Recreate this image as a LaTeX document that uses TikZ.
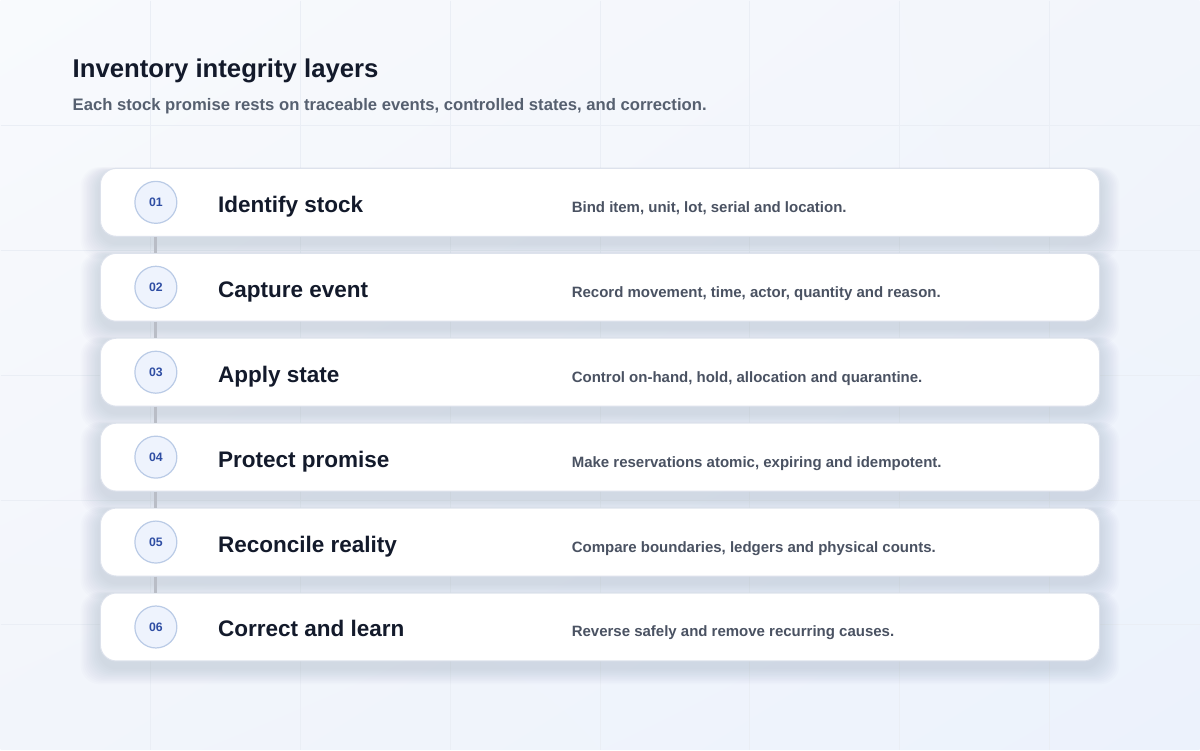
\documentclass[tikz,border=0pt]{standalone}
\usepackage{fontspec}
\setmainfont{Liberation Sans}
\usepackage{tikz}
\usetikzlibrary{shadings}
\pgfdeclarelayer{background}
\pgfsetlayers{background,main}
\definecolor{ink}{HTML}{131A2B}
\definecolor{muted}{HTML}{4A5262}
\definecolor{subgray}{HTML}{566070}
\definecolor{badgeblue}{HTML}{2E4DA3}
\definecolor{badgefill}{HTML}{EEF3FD}
\definecolor{badgeline}{HTML}{BACBE6}
\definecolor{cardline}{HTML}{DDE2EC}
\definecolor{gridline}{HTML}{EAEEF5}
\definecolor{stem}{HTML}{B9BDC6}
\definecolor{bgtop}{HTML}{F8FAFD}
\definecolor{bgmid}{HTML}{F2F5FB}
\definecolor{bgbot}{HTML}{ECF2FC}
\definecolor{dusk}{HTML}{5A6A90}
\tikzstyle{layer} = [rectangle, draw=cardline, fill=white, rounded corners=12pt,
    minimum width=750pt, minimum height=51pt, line width=0.75pt]
\tikzstyle{haze} = [fill=dusk, opacity=0.016, rounded corners=14pt]
\tikzstyle{badge} = [circle, draw=badgeline, fill=badgefill, line width=0.9pt,
    minimum size=31.5pt, inner sep=0pt, text=badgeblue, font=\bfseries\fontsize{9.2}{9}\selectfont]
\tikzstyle{heading} = [anchor=base west, inner sep=0pt, text=ink,
    font=\bfseries\fontsize{16.9}{18}\selectfont]
\tikzstyle{note} = [anchor=base west, inner sep=0pt, text=muted,
    font=\bfseries\fontsize{11.25}{13}\selectfont]
\tikzstyle{link} = [draw=stem, line width=2.25pt]

\begin{document}
\begin{tikzpicture}[x=0.75pt, y=-0.75pt, node distance=63.75pt]
    % Backdrop
    \begin{pgfonlayer}{background}
    \shade [upper left=bgtop, lower right=bgbot, upper right=bgmid, lower left=bgmid]
        (0,0) rectangle (1200,750);
    \foreach \gx in {150,300,...,1050} \draw [gridline, line width=0.75pt] (\gx,0) -- (\gx,750);
    \foreach \gy in {125,250,...,625} \draw [gridline, line width=0.75pt] (0,\gy) -- (1200,\gy);
    \end{pgfonlayer}
    \useasboundingbox (0,0) rectangle (1200,750);
    % Header
    \node [anchor=base west, inner sep=0pt, text=ink, font=\bfseries\fontsize{19.3}{22}\selectfont]
        (title) at (72,77) {Inventory integrity layers};
    \node [anchor=base west, inner sep=0pt, text=subgray, font=\bfseries\fontsize{12.5}{14}\selectfont]
        (subtitle) at (72,110) {Each stock promise rests on traceable events, controlled states, and correction.};
    % Place layers
    \node [layer] (identify) at (600,202) {};
    \node [layer, below of=identify] (capture) {};
    \node [layer, below of=capture] (apply) {};
    \node [layer, below of=apply] (protect) {};
    \node [layer, below of=protect] (reconcile) {};
    \node [layer, below of=reconcile] (correct) {};
    % Soft shadows under the layers
    \begin{pgfonlayer}{background}
    \foreach \c in {identify,capture,apply,protect,reconcile,correct}
        \foreach \k in {1,...,12}
            \path [haze] ([xshift=-\k*1.2pt, yshift=-5pt-\k*1pt]\c.south west)
                rectangle ([xshift=\k*1.2pt, yshift=-3pt+\k*0.3pt]\c.north east);
    \end{pgfonlayer}
    % Badges
    \node [badge] (n1) at ([xshift=42pt]identify.west) {01};
    \node [badge] (n2) at ([xshift=42pt]capture.west) {02};
    \node [badge] (n3) at ([xshift=42pt]apply.west) {03};
    \node [badge] (n4) at ([xshift=42pt]protect.west) {04};
    \node [badge] (n5) at ([xshift=42pt]reconcile.west) {05};
    \node [badge] (n6) at ([xshift=42pt]correct.west) {06};
    % Headings
    \node [heading] at ([xshift=88.5pt, yshift=-7.5pt]identify.west) {Identify stock};
    \node [heading] at ([xshift=88.5pt, yshift=-7.5pt]capture.west) {Capture event};
    \node [heading] at ([xshift=88.5pt, yshift=-7.5pt]apply.west) {Apply state};
    \node [heading] at ([xshift=88.5pt, yshift=-7.5pt]protect.west) {Protect promise};
    \node [heading] at ([xshift=88.5pt, yshift=-7.5pt]reconcile.west) {Reconcile reality};
    \node [heading] at ([xshift=88.5pt, yshift=-7.5pt]correct.west) {Correct and learn};
    % Notes
    \node [note] at ([xshift=354pt, yshift=-7.5pt]identify.west) {Bind item, unit, lot, serial and location.};
    \node [note] at ([xshift=354pt, yshift=-7.5pt]capture.west) {Record movement, time, actor, quantity and reason.};
    \node [note] at ([xshift=354pt, yshift=-7.5pt]apply.west) {Control on-hand, hold, allocation and quarantine.};
    \node [note] at ([xshift=354pt, yshift=-7.5pt]protect.west) {Make reservations atomic, expiring and idempotent.};
    \node [note] at ([xshift=354pt, yshift=-7.5pt]reconcile.west) {Compare boundaries, ledgers and physical counts.};
    \node [note] at ([xshift=354pt, yshift=-7.5pt]correct.west) {Reverse safely and remove recurring causes.};
    % Draw links
    \path [link] (identify.south -| n1) -- (capture.north -| n2);
    \path [link] (capture.south -| n2) -- (apply.north -| n3);
    \path [link] (apply.south -| n3) -- (protect.north -| n4);
    \path [link] (protect.south -| n4) -- (reconcile.north -| n5);
    \path [link] (reconcile.south -| n5) -- (correct.north -| n6);
\end{tikzpicture}
\end{document}
